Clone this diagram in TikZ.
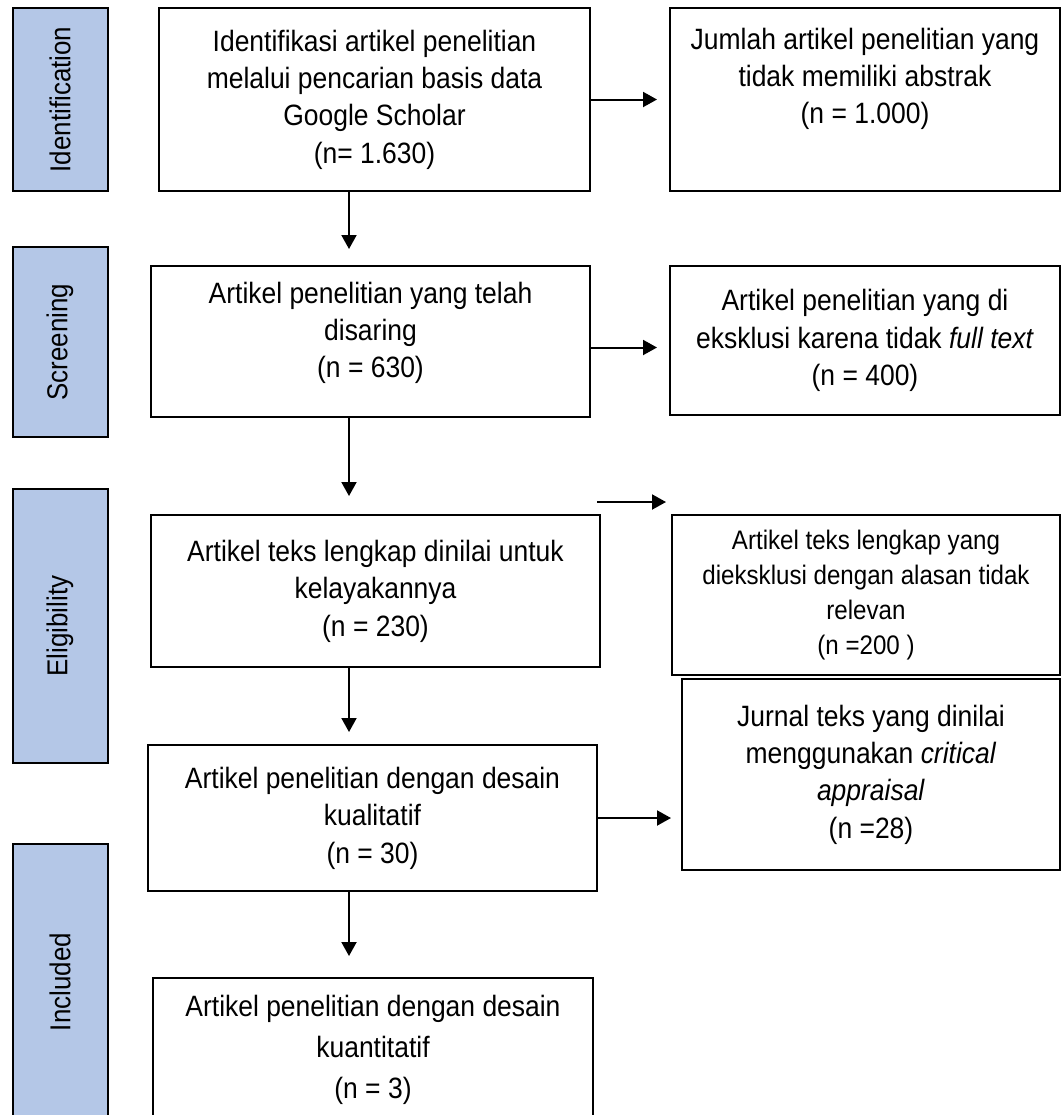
\documentclass[tikz,border=0pt]{standalone}
\usepackage{fontspec}
\setmainfont{Liberation Sans}[FakeStretch=0.9]
\usepackage{xcolor}
\usetikzlibrary{arrows.meta}
\definecolor{phaseblue}{HTML}{B4C7E7}

\begin{document}
\begin{tikzpicture}[x=0.5pt,y=-0.5pt,
    phase/.style={draw,line width=1pt,fill=phaseblue,rotate=90,minimum height=47.5pt,inner sep=0pt,font=\fontsize{14.4}{16}\selectfont},
    stage/.style={draw,line width=1pt,align=center,inner sep=0pt,font=\fontsize{14.7}{18.7}\selectfont},
    flow/.style={line width=1pt,-{Triangle[length=7pt,width=7.5pt]}}]
    \path[use as bounding box,clip] (0,0) rectangle (1062,1115);
    % phases on the left
    \node[phase,minimum width=91.5pt] (identification) at (60,99.5) {Identification};
    \node[phase,minimum width=95pt] (screening) at (60,342) {Screening};
    \node[phase,minimum width=137pt] (eligibility) at (60,626) {Eligibility};
    \node[phase,minimum width=138pt] (included) at (60,982) {Included};
    % main column
    \node[stage,minimum width=215.5pt,minimum height=91.5pt] (found) at (374.5,99.5)
        {Identifikasi artikel penelitian\\ melalui pencarian basis data\\ Google Scholar\\ (n= 1.630)};
    \node[stage,minimum width=219.5pt,minimum height=75.5pt] (screened) at (370.5,341.5)
        {Artikel penelitian yang telah\\ disaring\\ (n = 630)\\[-7pt]\mbox{}};
    \node[stage,minimum width=224.5pt,minimum height=76pt] (assessed) at (375.5,591)
        {Artikel teks lengkap dinilai untuk\\ kelayakannya\\ (n = 230)};
    \node[stage,minimum width=224.5pt,minimum height=73pt] (qualitative) at (372.5,818)
        {Artikel penelitian dengan desain\\ kualitatif\\ (n = 30)};
    \node[stage,minimum width=220pt,minimum height=72pt,font=\fontsize{14.7}{20.5}\selectfont] (quantitative) at (373,1050)
        {Artikel penelitian dengan desain\\ kuantitatif\\ (n = 3)};
    % excluded on the right
    \node[stage,minimum width=195pt,minimum height=91.5pt] (noabstract) at (865,99.5)
        {Jumlah artikel penelitian yang\\ tidak memiliki abstrak\\ (n = 1.000)\\[5pt]\mbox{}};
    \node[stage,minimum width=195pt,minimum height=74.5pt] (nofulltext) at (865,340.5)
        {Artikel penelitian yang di\\ eksklusi karena tidak \textit{full text}\\ (n = 400)};
    \node[stage,minimum width=194pt,minimum height=80pt,font=\fontsize{13.4}{17.5}\selectfont] (irrelevant) at (866,595)
        {Artikel teks lengkap yang\\ dieksklusi dengan alasan tidak\\ relevan\\ (n =200 )};
    \node[stage,minimum width=189pt,minimum height=95.5pt] (appraised) at (871,774.5)
        {Jurnal teks yang dinilai\\ menggunakan \textit{critical}\\ \textit{appraisal}\\ (n =28)};
    % arrows
    \coordinate (spine) at (349,0);
    \draw[flow,shorten >=8pt] (found.south -| spine) -- (screened.north -| spine);
    \draw[flow,shorten >=9pt] (screened.south -| spine) -- (assessed.north -| spine);
    \draw[flow,shorten >=6pt] (assessed.south -| spine) -- (qualitative.north -| spine);
    \draw[flow,shorten >=10.5pt] (qualitative.south -| spine) -- (quantitative.north -| spine);
    \draw[flow,shorten >=6pt] (found.east) -- (found.east -| noabstract.west);
    \draw[flow,shorten >=6pt] ([yshift=-3pt]screened.east) -- ([yshift=-3pt]screened.east -| nofulltext.west);
    \draw[flow,shorten >=5pt] (qualitative.east) -- (qualitative.east -| appraised.west);
    \coordinate (gapstart) at (597,502);
    \coordinate (gapend) at (666,502);
    \draw[flow] (gapstart) -- (gapend);
\end{tikzpicture}
\end{document}
